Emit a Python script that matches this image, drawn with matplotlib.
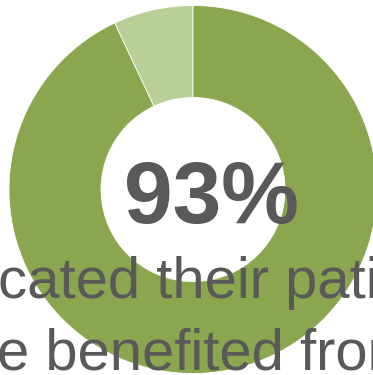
import matplotlib.pyplot as plt

# share of respondents
labels = ["No", "Yes"]
shares = [7, 93]
colors = ["#bacf98", "#8aa64f"]
headline = "93%"
caption_lines = ["cated their patie", "e benefited from"]

W, H = 373, 375
fig = plt.figure(figsize=(W / 100, H / 100), dpi=100)
ax = fig.add_axes([0, 0, 1, 1])

ax.pie(shares, colors=colors, startangle=90, counterclock=True,
       center=(193, H - 189.5), radius=184,
       wedgeprops=dict(width=92, edgecolor="white", linewidth=0.6))
ax.set_xlim(0, W)
ax.set_ylim(0, H)
ax.set_aspect("auto")
ax.axis("off")

gray = "#595959"
ax.text(124, H - 222.5, headline, fontsize=63, fontweight="bold",
        family="Liberation Sans", color=gray, ha="left", va="baseline")

# caption runs wider than the figure, so it is clipped at both sides
ax.text(-2, H - 298, caption_lines[0], fontsize=41.8, family="Liberation Sans",
        color=gray, ha="left", va="baseline")
ax.text(-3, H - 369, caption_lines[1], fontsize=41.8, family="Liberation Sans",
        color=gray, ha="left", va="baseline")

fig.savefig("out.png", dpi=100)
